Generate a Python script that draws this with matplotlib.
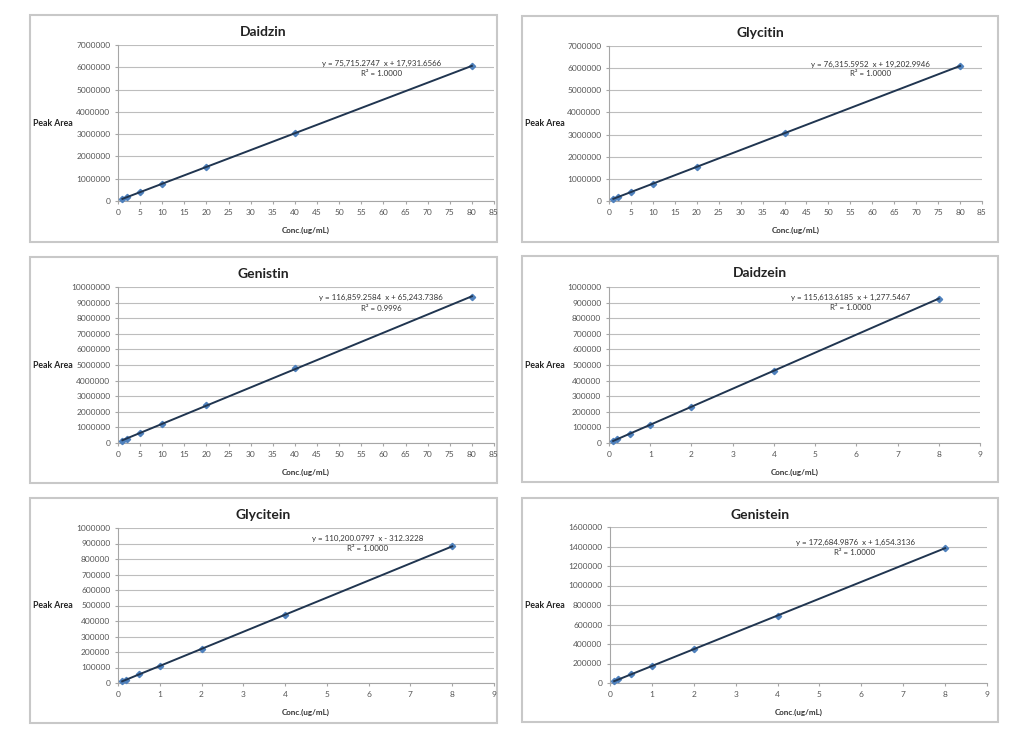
import numpy as np
import matplotlib
matplotlib.use("Agg")
import matplotlib.pyplot as plt
from matplotlib.patches import Rectangle

plt.rcParams['font.family'] = ['Lato', 'DejaVu Sans']

# calibration data
conc_high = [1, 2, 5, 10, 20, 40, 80]
conc_low = [0.1, 0.2, 0.5, 1, 2, 4, 8]

daidzin = [95000, 170000, 395000, 775000, 1530000, 3050000, 6060000]
glycitin = [95000, 172000, 400000, 780000, 1550000, 3080000, 6090000]
genistin = [150000, 270000, 620000, 1230000, 2430000, 4830000, 9350000]
daidzein = [13000, 25000, 59000, 117000, 232000, 463000, 926000]
glycitein = [11000, 22000, 55000, 110000, 220000, 440000, 882000]
genistein = [19000, 36000, 88000, 174000, 347000, 692000, 1383000]

titles = ["Daidzin", "Glycitin", "Genistin", "Daidzein", "Glycitein", "Genistein"]
series = [daidzin, glycitin, genistin, daidzein, glycitein, genistein]
xs = [conc_high, conc_high, conc_high, conc_low, conc_low, conc_low]
equations = ["y = 75,715.2747  x + 17,931.6566",
             "y = 76,315.5952  x + 19,202.9946",
             "y = 116,859.2584  x + 65,243.7386",
             "y = 115,613.6185  x + 1,277.5467",
             "y = 110,200.0797  x - 312.3228",
             "y = 172,684.9876  x + 1,654.3136"]
r2 = ["R² = 1.0000", "R² = 1.0000", "R² = 0.9996",
      "R² = 1.0000", "R² = 1.0000", "R² = 1.0000"]
ymax = [7000000, 7000000, 10000000, 1000000, 1000000, 1600000]
ystep = [1000000, 1000000, 1000000, 100000, 100000, 200000]
xmax = [85, 85, 85, 9, 9, 9]
xstep = [5, 5, 5, 1, 1, 1]

# layout in pixels: panel box (x0, y0, x1, y1), plot area (x0, y0, x1, y1)
W, H = 1028, 733
panels = [(30, 15, 497, 242), (522, 16, 998, 242),
          (30, 257, 497, 483), (522, 256, 998, 482),
          (30, 498, 497, 723), (522, 498, 998, 722)]
areas = [(118, 45, 494, 201), (609, 46, 982, 201),
         (118, 287, 494, 443), (609, 287, 980, 443),
         (118, 528, 494, 683), (610, 527, 987, 683)]
eq_pos = [(0.70, 0.88, 0.82), (0.70, 0.88, 0.82),
          (0.70, 0.93, 0.865), (0.65, 0.935, 0.87),
          (0.665, 0.935, 0.865), (0.65, 0.90, 0.835)]

fig = plt.figure(figsize=(W / 100, H / 100), dpi=100)

for i in range(6):
    px0, py0, px1, py1 = panels[i]
    fig.patches.append(Rectangle((px0 / W, 1 - py1 / H), (px1 - px0) / W, (py1 - py0) / H,
                                 transform=fig.transFigure, facecolor='white',
                                 edgecolor='#c8c8c8', linewidth=1.5, zorder=-5))
    ax0, ay0, ax1, ay1 = areas[i]
    ax = fig.add_axes([ax0 / W, 1 - ay1 / H, (ax1 - ax0) / W, (ay1 - ay0) / H])
    ax.set_facecolor('none')
    ax.set_zorder(2)

    x = np.array(xs[i], dtype=float)
    y = np.array(series[i], dtype=float)
    k, b = np.polyfit(x, y, 1)
    ax.plot(x, y, linestyle='none', marker='D', markersize=3.2,
            color='#4f81bd', zorder=3, clip_on=False)
    xl = np.array([x.min(), x.max()])
    ax.plot(xl, k * xl + b, color='#203550', linewidth=1.4, zorder=4)

    ax.set_xlim(0, xmax[i])
    ax.set_ylim(0, ymax[i])
    ax.set_xticks(np.arange(0, xmax[i] + 0.01, xstep[i]))
    ax.set_yticks(np.arange(0, ymax[i] + 1, ystep[i]))
    ax.set_yticklabels([str(int(v)) for v in np.arange(0, ymax[i] + 1, ystep[i])])
    ax.grid(axis='y', color='#bdbdbd', linewidth=0.8)
    ax.set_axisbelow(True)
    for s in ['top', 'right']:
        ax.spines[s].set_visible(False)
    for s in ['left', 'bottom']:
        ax.spines[s].set_color('#a6a6a6')
        ax.spines[s].set_linewidth(0.8)
    ax.tick_params(axis='both', labelsize=6, colors='#a6a6a6', labelcolor='#555555',
                   length=2.5, width=0.8, pad=3)

    ax.text(eq_pos[i][0], eq_pos[i][1], equations[i], transform=ax.transAxes,
            ha='center', va='center', fontsize=5.7, color='#333333')
    ax.text(eq_pos[i][0], eq_pos[i][2], r2[i], transform=ax.transAxes,
            ha='center', va='center', fontsize=5.7, color='#333333')

    # title, axis labels
    fig.text((px0 + px1) / 2 / W, 1 - (py0 + 17) / H, titles[i], ha='center', va='center',
             fontsize=10, fontweight='bold', color='#222222')
    ax.text(0.5, -(29) / (ay1 - ay0), "Conc.(ug/mL)", transform=ax.transAxes,
            ha='center', va='center', fontsize=5.8, fontweight='bold', color='#333333')
    fig.text((px0 + 3) / W, 1 - ((ay0 + ay1) / 2) / H, "Peak Area", ha='left', va='center',
             fontsize=6.3, fontweight='bold', color='#222222')

fig.savefig("out.png", dpi=100, facecolor='white')
